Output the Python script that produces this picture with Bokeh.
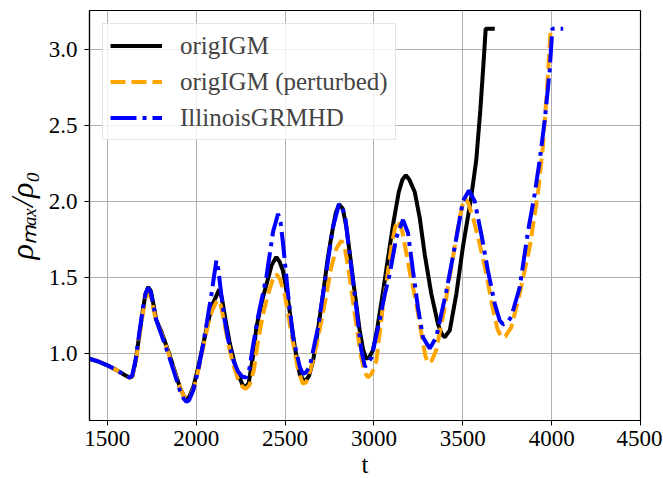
from bokeh.plotting import figure
from bokeh.models import Range1d, FixedTicker, Legend
from bokeh.embed import file_html
from bokeh.resources import INLINE

# ---- data ----
t_orig = [1400, 1450, 1500, 1550, 1600, 1625, 1640, 1660, 1680, 1700, 1715, 1730, 1745, 1760,
          1775, 1790, 1805, 1820, 1850, 1880, 1910, 1930, 1945, 1960, 1985, 2010, 2040, 2070,
          2095, 2115, 2130, 2145, 2165, 2190, 2215, 2240, 2260, 2274, 2295, 2320, 2339, 2370,
          2395, 2425, 2451, 2470, 2489, 2517, 2555, 2583, 2611, 2635, 2658, 2685, 2714, 2740,
          2761, 2785, 2804, 2825, 2845, 2865, 2883, 2920, 2940, 2957, 2975, 2995, 3020, 3051,
          3080, 3110, 3140, 3160, 3180, 3200, 3230, 3258, 3286, 3323, 3361, 3380, 3398, 3427,
          3464, 3501, 3548, 3576, 3599, 3618, 3629, 3680]
y_orig = [0.963, 0.945, 0.92, 0.89, 0.855, 0.84, 0.845, 0.95, 1.12, 1.28, 1.39, 1.435, 1.41, 1.32,
          1.22, 1.18, 1.14, 1.09, 0.99, 0.88, 0.77, 0.72, 0.70, 0.71, 0.78, 0.90, 1.06, 1.22,
          1.33, 1.38, 1.42, 1.36, 1.22, 1.06, 0.94, 0.85, 0.795, 0.775, 0.80, 0.98, 1.17, 1.34,
          1.45, 1.58, 1.632, 1.60, 1.54, 1.35, 1.04, 0.86, 0.81, 0.85, 0.95, 1.15, 1.39, 1.62,
          1.77, 1.92, 1.98, 1.95, 1.83, 1.65, 1.48, 1.15, 1.02, 0.963, 0.975, 1.02, 1.17, 1.40,
          1.63, 1.86, 2.06, 2.14, 2.17, 2.14, 2.06, 1.89, 1.65, 1.39, 1.19, 1.13, 1.105, 1.15,
          1.39, 1.70, 2.03, 2.27, 2.60, 2.93, 3.134, 3.134]

t_pert = [1400, 1450, 1500, 1550, 1600, 1625, 1640, 1660, 1680, 1700, 1715, 1728, 1745, 1760,
          1775, 1790, 1805, 1820, 1850, 1880, 1910, 1930, 1950, 1965, 1990, 2015, 2040, 2065,
          2090, 2110, 2125, 2140, 2160, 2185, 2210, 2235, 2260, 2278, 2300, 2325, 2348, 2375,
          2405, 2430, 2451, 2470, 2498, 2536, 2573, 2600, 2620, 2648, 2675, 2705, 2735, 2761,
          2790, 2817, 2835, 2855, 2892, 2929, 2950, 2967, 2990, 3014, 3050, 3075, 3100, 3120,
          3136, 3160, 3201, 3239, 3267, 3290, 3305, 3325, 3351, 3398, 3445, 3483, 3500, 3511,
          3530, 3560, 3595, 3633, 3668, 3695, 3717, 3740, 3773, 3820, 3877, 3923, 3950, 3972,
          3995]
y_pert = [0.963, 0.945, 0.92, 0.89, 0.855, 0.84, 0.845, 0.94, 1.10, 1.26, 1.36, 1.40, 1.37, 1.29,
          1.21, 1.17, 1.13, 1.08, 0.98, 0.87, 0.77, 0.72, 0.70, 0.71, 0.78, 0.90, 1.04, 1.18,
          1.28, 1.33, 1.35, 1.31, 1.19, 1.04, 0.92, 0.83, 0.78, 0.765, 0.79, 0.89, 1.08, 1.25,
          1.39, 1.48, 1.52, 1.49, 1.39, 1.13, 0.89, 0.80, 0.81, 0.91, 1.04, 1.215, 1.40, 1.57,
          1.69, 1.74, 1.70, 1.57, 1.26, 0.97, 0.87, 0.84, 0.87, 0.95, 1.30, 1.50, 1.71, 1.83,
          1.873, 1.80, 1.54, 1.325, 1.13, 0.98, 0.935, 0.95, 1.02, 1.30, 1.63, 1.895, 1.98, 2.016,
          1.99, 1.88, 1.72, 1.52, 1.30, 1.16, 1.105, 1.11, 1.17, 1.39, 1.70, 2.05, 2.35, 2.70,
          3.134]

t_igrmhd = [1400, 1450, 1500, 1550, 1600, 1625, 1640, 1660, 1680, 1700, 1715, 1730, 1745, 1760,
            1775, 1790, 1805, 1820, 1850, 1880, 1910, 1930, 1945, 1960, 1985, 2010, 2035, 2060,
            2085, 2100, 2114, 2125, 2140, 2160, 2185, 2210, 2235, 2260, 2281, 2300, 2320, 2350,
            2395, 2433, 2461, 2475, 2489, 2517, 2545, 2583, 2600, 2615, 2639, 2686, 2733, 2770,
            2804, 2836, 2864, 2901, 2929, 2950, 2986, 3033, 3060, 3089, 3126, 3164, 3192, 3220,
            3248, 3276, 3314, 3351, 3408, 3455, 3501, 3535, 3567, 3604, 3642, 3680, 3708, 3727,
            3750, 3773, 3820, 3867, 3905, 3933, 3961, 3989, 4004, 4065]
y_igrmhd = [0.963, 0.945, 0.92, 0.89, 0.855, 0.84, 0.85, 0.96, 1.13, 1.29, 1.39, 1.43, 1.40, 1.31,
            1.22, 1.17, 1.12, 1.07, 0.97, 0.86, 0.75, 0.70, 0.68, 0.69, 0.76, 0.88, 1.03, 1.20,
            1.38, 1.50, 1.61, 1.55, 1.40, 1.22, 1.06, 0.95, 0.88, 0.845, 0.84, 0.90, 1.05, 1.25,
            1.50, 1.80, 1.917, 1.86, 1.72, 1.39, 1.105, 0.91, 0.864, 0.87, 0.91, 1.17, 1.54, 1.83,
            1.983, 1.92, 1.65, 1.30, 1.02, 0.91, 0.97, 1.22, 1.38, 1.52, 1.76, 1.877, 1.79, 1.54,
            1.30, 1.105, 1.03, 1.105, 1.41, 1.70, 2.00, 2.07, 2.00, 1.785, 1.54, 1.325, 1.215, 1.19,
            1.20, 1.24, 1.43, 1.80, 2.05, 2.27, 2.53, 2.86, 3.134, 3.134]

x_ticks = [1500, 2000, 2500, 3000, 3500, 4000, 4500]
y_ticks = [1.0, 1.5, 2.0, 2.5, 3.0]

FONT = "Liberation Serif"

p = figure(frame_width=551, frame_height=410, output_backend="svg", toolbar_location=None,
           x_range=Range1d(1400, 4500), y_range=Range1d(0.557, 3.254),
           min_border_left=86, min_border_right=22, min_border_top=10, min_border_bottom=20)

p.background_fill_color = "white"
p.border_fill_color = "white"
p.outline_line_color = "black"
p.outline_line_width = 1.2

r1 = p.line(t_orig, y_orig, line_color="black", line_width=4)
r2 = p.line(t_pert, y_pert, line_color="orange", line_width=4, line_dash="15 6")
r3 = p.line(t_igrmhd, y_igrmhd, line_color="blue", line_width=4, line_dash="26 6 4 6")

legend = Legend(items=[("origIGM", [r1]), ("origIGM (perturbed)", [r2]), ("IllinoisGRMHD", [r3])],
                location="top_left")
legend.margin = 13
legend.padding = 7
legend.spacing = 7
legend.glyph_width = 52
legend.glyph_height = 29
legend.label_height = 29
legend.label_standoff = 18
legend.label_text_font = FONT
legend.label_text_font_size = "25px"
legend.border_line_color = "#cccccc"
legend.border_line_width = 1
legend.background_fill_alpha = 0.8
p.add_layout(legend)

for ax in (p.xaxis, p.yaxis):
    ax.axis_line_color = "black"
    ax.axis_line_width = 1.2
    ax.major_tick_line_color = "black"
    ax.major_tick_out = 5
    ax.major_tick_in = 0
    ax.minor_tick_out = 0
    ax.minor_tick_in = 0
    ax.major_label_text_font = FONT
    ax.major_label_text_font_size = "23px"
    ax.major_label_text_color = "black"
    ax.axis_label_text_font = FONT
    ax.axis_label_text_color = "black"

p.xaxis.ticker = FixedTicker(ticks=x_ticks)
p.yaxis.ticker = FixedTicker(ticks=y_ticks)
p.yaxis.major_label_overrides = {v: f"{v:.1f}" for v in y_ticks}
p.xaxis.major_label_standoff = 5
p.yaxis.major_label_standoff = 7

p.xaxis.axis_label = "t"
p.xaxis.axis_label_text_font_size = "25px"
p.xaxis.axis_label_text_font_style = "normal"
p.xaxis.axis_label_standoff = 2

p.yaxis.axis_label = "ρₘₐₓ/ρ₀"
p.yaxis.axis_label_text_font_size = "32px"
p.yaxis.axis_label_text_font_style = "italic"
p.yaxis.axis_label_standoff = 6

p.xgrid.grid_line_color = "#b0b0b0"
p.ygrid.grid_line_color = "#b0b0b0"
p.xgrid.grid_line_width = 1
p.ygrid.grid_line_width = 1

open("out.html", "w").write(file_html(p, INLINE))
